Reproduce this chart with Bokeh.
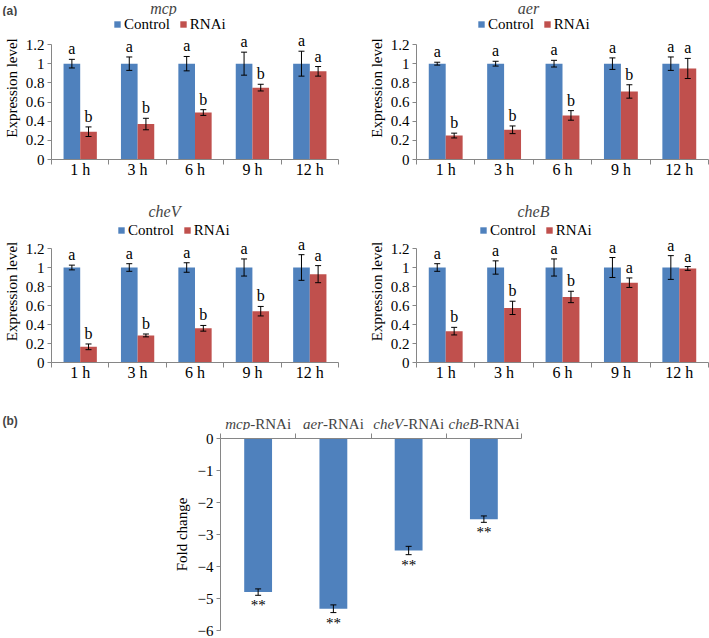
from bokeh.plotting import figure
from bokeh.models import (Range1d, FixedTicker, ColumnDataSource, Whisker, TeeHead,
                          LabelSet, Label)
from bokeh.layouts import column, row
from bokeh.embed import file_html
from bokeh.resources import INLINE
from bokeh.transform import dodge
from bokeh.core.properties import value

# ---------------- data ----------------
times = ["1 h", "3 h", "6 h", "9 h", "12 h"]
y_ticks_a = [0, 0.2, 0.4, 0.6, 0.8, 1, 1.2]

mcp_control = [1, 1, 1, 1, 1]
mcp_control_err = [0.045, 0.07, 0.075, 0.12, 0.13]
mcp_rnai = [0.29, 0.37, 0.49, 0.75, 0.92]
mcp_rnai_err = [0.05, 0.06, 0.03, 0.035, 0.05]
mcp_control_letters = ["a", "a", "a", "a", "a"]
mcp_rnai_letters = ["b", "b", "b", "b", "a"]

aer_control = [1, 1, 1, 1, 1]
aer_control_err = [0.015, 0.025, 0.035, 0.06, 0.07]
aer_rnai = [0.25, 0.31, 0.46, 0.71, 0.95]
aer_rnai_err = [0.025, 0.04, 0.05, 0.07, 0.105]
aer_control_letters = ["a", "a", "a", "a", "a"]
aer_rnai_letters = ["b", "b", "b", "b", "a"]

chev_control = [1, 1, 1, 1, 1]
chev_control_err = [0.025, 0.04, 0.05, 0.09, 0.135]
chev_rnai = [0.165, 0.285, 0.36, 0.54, 0.93]
chev_rnai_err = [0.03, 0.015, 0.03, 0.05, 0.09]
chev_control_letters = ["a", "a", "a", "a", "a"]
chev_rnai_letters = ["b", "b", "b", "b", "a"]

cheb_control = [1, 1, 1, 1, 1]
cheb_control_err = [0.04, 0.07, 0.09, 0.105, 0.125]
cheb_rnai = [0.33, 0.575, 0.69, 0.84, 0.99]
cheb_rnai_err = [0.04, 0.07, 0.06, 0.05, 0.02]
cheb_control_letters = ["a", "a", "a", "a", "a"]
cheb_rnai_letters = ["b", "b", "b", "a", "a"]

genes = ["mcp", "aer", "cheV", "cheB"]
gene_suffix = "-RNAi"
fold_change = [-4.8, -5.32, -3.5, -2.52]
fold_err = [0.1, 0.12, 0.13, 0.1]
signif = ["**", "**", "**", "**"]
y_ticks_b = [0, -1, -2, -3, -4, -5, -6]

# ---------------- style ----------------
BLUE = "#4F81BD"
RED = "#C0504D"
AXIS = "#868686"
SERIF = "Liberation Serif"
SANS = "Liberation Sans"
W = 709


def base_style(p):
    p.outline_line_color = None
    p.xgrid.visible = False
    p.ygrid.visible = False
    p.background_fill_color = "white"
    p.border_fill_color = "white"
    for ax in (p.xaxis[0], p.yaxis[0]):
        ax.axis_line_color = AXIS
        ax.major_tick_line_color = AXIS
        ax.minor_tick_line_color = AXIS
        ax.major_label_text_font = SERIF
        ax.major_label_text_color = "black"
        ax.axis_label_text_font = SERIF
        ax.axis_label_text_font_style = "normal"
        ax.axis_label_text_color = "black"


def header(h):
    """A text strip with no axes: its data units are pixels from the top-left."""
    p = figure(width=W, height=h, x_range=Range1d(0, W), y_range=Range1d(h, 0),
               x_axis_location=None, y_axis_location=None, title=None,
               output_backend="svg", toolbar_location=None, min_border=0)
    p.outline_line_color = None
    p.grid.visible = False
    p.background_fill_color = "white"
    p.border_fill_color = "white"
    return p


def add_title(hdr, text, cx, cy):
    hdr.add_layout(Label(x=cx, y=cy, text=text, text_font=SERIF, text_font_style="italic",
                         text_font_size="16px", text_align="center", text_baseline="middle"))


def add_tag(hdr, text, x, cy):
    hdr.add_layout(Label(x=x, y=cy, text=text, text_font=SANS, text_font_style="bold",
                         text_font_size="12px", text_align="left", text_baseline="middle"))


N = len(times)
centers = [i + 0.5 for i in range(N)]
bounds = list(range(N + 1))
OFF = 0.145
BW = 0.29


def panel_a(ctrl, ctrl_err, rnai, rnai_err, ctrl_lab, rnai_lab,
            fig_w, fig_h, fl, fw, fh, gap_top, legend_x, legend_cy):
    """fl/fw: frame left and width; fh: frame height (frame starts at the top);
    gap_top: pixels between frame top and the 1.2 tick; legend_x / legend_cy:
    legend left edge and centre, in px from the frame's top-left."""
    ylo, yax = y_ticks_a[0], y_ticks_a[-1]
    yhi = ylo + (yax - ylo) * fh / (fh - gap_top)
    p = figure(width=fig_w, height=fig_h, x_range=Range1d(0, N),
               y_range=Range1d(ylo, yhi), title=None,
               output_backend="svg", toolbar_location=None,
               min_border_left=fl, min_border_right=fig_w - fl - fw,
               min_border_top=0, min_border_bottom=fig_h - fh)
    base_style(p)
    upp = (yhi - ylo) / fh
    src = ColumnDataSource(dict(
        x=centers, ctrl=ctrl, rnai=rnai,
        c_hi=[v + e for v, e in zip(ctrl, ctrl_err)],
        c_lo=[v - e for v, e in zip(ctrl, ctrl_err)],
        r_hi=[v + e for v, e in zip(rnai, rnai_err)],
        r_lo=[v - e for v, e in zip(rnai, rnai_err)],
        c_lab=ctrl_lab, r_lab=rnai_lab,
        c_ly=[v + e + 2 * upp for v, e in zip(ctrl, ctrl_err)],
        r_ly=[v + e + 2 * upp for v, e in zip(rnai, rnai_err)],
    ))
    p.vbar(x=dodge("x", -OFF), top="ctrl", width=BW, source=src,
           fill_color=BLUE, line_color=None, legend_label="Control")
    p.vbar(x=dodge("x", OFF), top="rnai", width=BW, source=src,
           fill_color=RED, line_color=None, legend_label="RNAi")
    for off, hi, lo in ((-OFF, "c_hi", "c_lo"), (OFF, "r_hi", "r_lo")):
        p.add_layout(Whisker(base=dodge("x", off), upper=hi, lower=lo, source=src,
                             line_color="black", line_width=1, level="annotation",
                             upper_head=TeeHead(size=6, line_color="black", line_width=1),
                             lower_head=TeeHead(size=6, line_color="black", line_width=1)))
    for off, lab, ly in ((-OFF, "c_lab", "c_ly"), (OFF, "r_lab", "r_ly")):
        p.add_layout(LabelSet(x=dodge("x", off), y=ly, text=lab, source=src,
                              text_align="center", text_baseline="bottom",
                              text_font=value(SERIF), text_font_size="16px",
                              text_color="black"))

    lg = p.legend[0]
    lg.orientation = "horizontal"
    lg.border_line_color = None
    lg.background_fill_alpha = 0
    lg.label_text_font = SERIF
    lg.label_text_font_size = "15px"
    lg.label_text_color = "black"
    lg.glyph_width = 8
    lg.glyph_height = 8
    lg.label_standoff = 3
    lg.spacing = 9
    lg.padding = 0
    lg.margin = 0
    lg.label_height = 14
    lg.location = (legend_x, fh - (legend_cy + 8.5))

    xa = p.xaxis[0]
    xa.ticker = FixedTicker(ticks=centers, minor_ticks=bounds)
    xa.major_label_overrides = dict(zip(centers, times))
    xa.major_tick_out = 0
    xa.major_tick_in = 0
    xa.minor_tick_out = 5
    xa.minor_tick_in = 0
    xa.major_label_standoff = -4
    xa.major_label_text_font_size = "16px"

    ya = p.yaxis[0]
    ya.ticker = FixedTicker(ticks=y_ticks_a, minor_ticks=[])
    ya.bounds = (ylo, yax)
    ya.major_label_overrides = {t: f"{t:g}" for t in y_ticks_a}
    ya.major_tick_out = 4
    ya.major_tick_in = 0
    ya.major_label_standoff = 3
    ya.major_label_text_font_size = "15px"
    ya.axis_label = "Expression level"
    ya.axis_label_text_font_size = "15px"
    ya.axis_label_standoff = 3
    return p


# ---------------- row 1 ----------------
H1 = 16
hdr1 = header(H1)
add_title(hdr1, "mcp", 163, 8)
add_title(hdr1, "aer", 528, 8)
add_tag(hdr1, "(a)", 2, 10)

p1 = panel_a(mcp_control, mcp_control_err, mcp_rnai, mcp_rnai_err,
             mcp_control_letters, mcp_rnai_letters,
             355, 180, 46, 292, 143, 28, 62, 8)
p2 = panel_a(aer_control, aer_control_err, aer_rnai, aer_rnai_err,
             aer_control_letters, aer_rnai_letters,
             354, 180, 61, 292, 143, 28, 61, 8)

# ---------------- row 2 ----------------
H2 = 24
hdr2 = header(H2)
add_title(hdr2, "cheV", 164, 15)
add_title(hdr2, "cheB", 533, 15)

p3 = panel_a(chev_control, chev_control_err, chev_rnai, chev_rnai_err,
             chev_control_letters, chev_rnai_letters,
             355, 174, 46, 292, 142, 28, 66, 10)
p4 = panel_a(cheb_control, cheb_control_err, cheb_rnai, cheb_rnai_err,
             cheb_control_letters, cheb_rnai_letters,
             354, 174, 61, 292, 142, 28, 63, 10)

# ---------------- panel (b) ----------------
NB = len(genes)
FH = 208
bfl, bfw, bft, bfh = 220, 301, 8, 192
pb = figure(width=W, height=FH, x_range=Range1d(0, NB),
            y_range=Range1d(y_ticks_b[-1], y_ticks_b[0]),
            title=None, x_axis_location="above",
            output_backend="svg", toolbar_location=None,
            min_border_left=bfl, min_border_right=W - bfl - bfw,
            min_border_top=bft, min_border_bottom=FH - bft - bfh)
base_style(pb)
bupp = (y_ticks_b[0] - y_ticks_b[-1]) / bfh
b_centers = [i + 0.5 for i in range(NB)]
b_bounds = list(range(NB + 1))
bsrc = ColumnDataSource(dict(
    x=b_centers, fc=fold_change,
    hi=[v + e for v, e in zip(fold_change, fold_err)],
    lo=[v - e for v, e in zip(fold_change, fold_err)],
    sy=[v - e - 2 * bupp for v, e in zip(fold_change, fold_err)],
    sig=signif,
))
pb.vbar(x="x", top=0, bottom="fc", width=0.37, source=bsrc, fill_color=BLUE, line_color=None)
pb.add_layout(Whisker(base="x", upper="hi", lower="lo", source=bsrc,
                      line_color="black", line_width=1, level="annotation",
                      upper_head=TeeHead(size=6, line_color="black", line_width=1),
                      lower_head=TeeHead(size=6, line_color="black", line_width=1)))
pb.add_layout(LabelSet(x="x", y="sy", text="sig", source=bsrc, text_align="center",
                       text_baseline="top", text_font=value(SERIF), text_font_size="15px",
                       text_color="black"))

xb = pb.xaxis[0]
xb.ticker = FixedTicker(ticks=[], minor_ticks=b_bounds)
xb.major_tick_out = 0
xb.major_tick_in = 0
xb.minor_tick_out = 5
xb.minor_tick_in = 0
xb.major_label_standoff = 0

yb = pb.yaxis[0]
yb.ticker = FixedTicker(ticks=y_ticks_b, minor_ticks=[])
yb.major_label_overrides = {t: str(t).replace("-", "\u2212") for t in y_ticks_b}
yb.major_tick_out = 4
yb.major_tick_in = 0
yb.major_label_standoff = 3
yb.major_label_text_font_size = "15px"
yb.axis_label = "Fold change"
yb.axis_label_text_font_size = "15px"
yb.axis_label_standoff = 5

# header strip for (b): tag and category labels with italic gene names
H3 = 36
hdr3 = header(H3)
add_tag(hdr3, "(b)", 2, 26)
junction = [-7.9, -10.4, -5.4, -5.4]
for i, (g, j) in enumerate(zip(genes, junction)):
    cx = bfl + (i + 0.5) * bfw / NB
    hdr3.add_layout(Label(x=cx, y=29, x_offset=j, text=g, text_font=SERIF,
                          text_font_style="italic", text_font_size="15px",
                          text_align="right", text_baseline="middle"))
    hdr3.add_layout(Label(x=cx, y=29, x_offset=j, text=gene_suffix, text_font=SERIF,
                          text_font_size="15px", text_align="left", text_baseline="middle"))

layout = column(row(hdr1), row(p1, p2, spacing=0), row(hdr2), row(p3, p4, spacing=0),
                row(hdr3), row(pb), spacing=0)

with open("out.html", "w") as f:
    f.write(file_html(layout, INLINE))
